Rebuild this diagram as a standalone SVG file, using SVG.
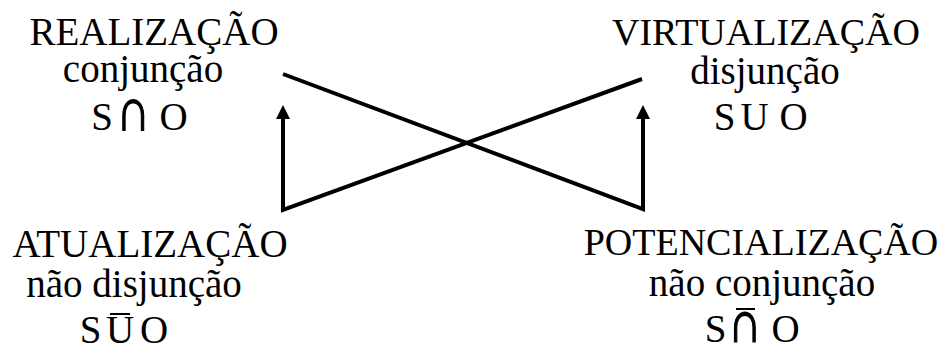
<svg xmlns="http://www.w3.org/2000/svg" width="945" height="347" viewBox="0 0 945 347">
<defs>
<style>
text{font-family:"Liberation Serif","Times New Roman",serif;fill:#000;text-anchor:middle;font-size:39px}
.t38{font-size:38px}
.cap{stroke:#000;stroke-width:0.9}
.c{fill:none;stroke:#000;stroke-width:4;stroke-linejoin:miter}
.bar{stroke:#000;stroke-width:2}
</style>
</defs>
<rect width="945" height="347" fill="#fff"/>
<g id="connectors">
<path class="c" d="M642,79 L283,210 L283,118"/>
<path class="c" d="M283,74 L643,209 L643,118"/>
<polygon points="283,105 276,119 290,119" fill="#000"/>
<polygon points="643,105 636,119 650,119" fill="#000"/>
</g>
<g id="realizacao">
<text x="154" y="45">REALIZAÇÃO</text>
<text x="143" y="82">conjunção</text>
<text x="102" y="130">S</text>
<text class="cap" transform="translate(133.5,130) scale(1.2,1.55)">∩</text>
<text x="173.5" y="130">O</text>
</g>
<g id="virtualizacao">
<text class="t38" x="766" y="45">VIRTUALIZAÇÃO</text>
<text x="765" y="84">disjunção</text>
<text x="724.5" y="130">S</text>
<text x="754.5" y="130">U</text>
<text x="793.5" y="130">O</text>
</g>
<g id="atualizacao">
<text x="150" y="257">ATUALIZAÇÃO</text>
<text x="134" y="297">não disjunção</text>
<text x="90.5" y="343">S</text>
<text x="120" y="343">U</text>
<text x="154" y="343">O</text>
<line class="bar" x1="110" y1="314" x2="130" y2="314"/>
</g>
<g id="potencializacao">
<text class="t38" x="761" y="255">POTENCIALIZAÇÃO</text>
<text x="762" y="296">não conjunção</text>
<text x="715.5" y="342">S</text>
<text class="cap" transform="translate(745,342) scale(1.2,1.5)">∩</text>
<text x="785.5" y="342">O</text>
<line class="bar" x1="736" y1="309" x2="755" y2="309"/>
</g>
</svg>
